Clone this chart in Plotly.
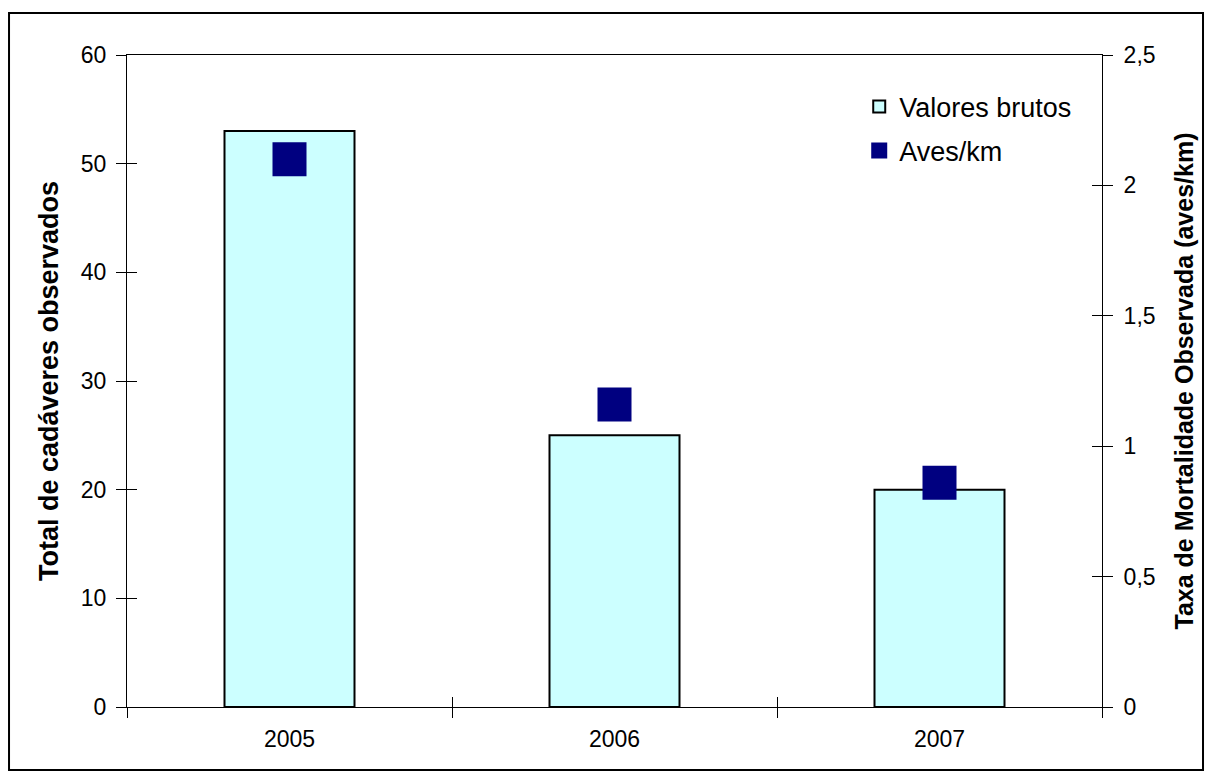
import plotly.graph_objects as go

years = ["2005", "2006", "2007"]
valores_brutos = [53, 25, 20]
aves_km = [2.10, 1.16, 0.86]
left_ticks = [0, 10, 20, 30, 40, 50, 60]
right_ticks = [0, 0.5, 1, 1.5, 2, 2.5]
right_tick_text = ["0", "0,5", "1", "1,5", "2", "2,5"]

FONT = "Liberation Sans, Arial, sans-serif"
TICK = 23

fig = go.Figure()
fig.add_trace(go.Bar(
    x=years, y=valores_brutos, name="Valores brutos", legendgroup="a",
    marker=dict(color="#CCFFFF", line=dict(color="black", width=2)),
    yaxis="y",
))
fig.add_trace(go.Scatter(
    x=years, y=aves_km, name="Aves/km", mode="markers", legendgroup="b",
    marker=dict(symbol="square", size=34, color="#000080", line=dict(width=0)),
    yaxis="y2",
))

fig.update_layout(
    width=1213, height=780,
    margin=dict(l=127, r=111, t=55, b=73),
    paper_bgcolor="white", plot_bgcolor="white",
    font=dict(family=FONT, size=TICK, color="black"),
    bargap=0.6,
    showlegend=True,
    legend=dict(x=0.751, y=0.958, xanchor="left", yanchor="top",
                bgcolor="rgba(0,0,0,0)", font=dict(size=27),
                tracegroupgap=6, itemsizing="trace"),
    xaxis=dict(
        type="category", showline=True, linecolor="black", linewidth=1,
        mirror=True, ticks="outside", ticklen=10, tickcolor="black",
        tickson="boundaries", showgrid=False, tickfont=dict(size=TICK),
        ticklabelstandoff=11,
    ),
    yaxis=dict(
        range=[0, 60], tickvals=left_ticks, showline=True, linecolor="black",
        linewidth=1, ticks="outside", ticklen=10, tickcolor="black",
        showgrid=False, zeroline=False, ticklabelstandoff=5,
        tickfont=dict(size=TICK),
        title=dict(text="<b>Total de cadáveres observados</b>",
                   font=dict(size=27), standoff=14),
    ),
    yaxis2=dict(
        range=[0, 2.5], tickvals=right_ticks, ticktext=right_tick_text,
        overlaying="y", side="right", showline=True, linecolor="black",
        linewidth=1, ticks="outside", ticklen=10, tickcolor="black",
        showgrid=False, zeroline=False, ticklabelstandoff=6,
        tickfont=dict(size=TICK),
        title=dict(text="<b>Taxa de Mortalidade Observada (aves/km)</b>",
                   font=dict(size=25), standoff=20),
    ),
    yaxis3=dict(
        range=[0, 60], tickvals=left_ticks, overlaying="y", side="left",
        showline=False, ticks="inside", ticklen=10, tickcolor="black",
        showticklabels=False, showgrid=False, zeroline=False,
    ),
    yaxis4=dict(
        range=[0, 2.5], tickvals=right_ticks, overlaying="y", side="right",
        showline=False, ticks="inside", ticklen=10, tickcolor="black",
        showticklabels=False, showgrid=False, zeroline=False,
    ),
    xaxis2=dict(
        range=[-0.5, 2.5], tickvals=[-0.5, 0.5, 1.5, 2.5], overlaying="x",
        side="bottom", showline=False, ticks="inside", ticklen=10,
        tickcolor="black", showticklabels=False, showgrid=False,
        zeroline=False, anchor="y",
    ),
)

# invisible traces that activate the overlay tick axes
fig.add_trace(go.Scatter(x=[None], y=[None], xaxis="x2", yaxis="y3",
                         showlegend=False, hoverinfo="skip"))
fig.add_trace(go.Scatter(x=[None], y=[None], yaxis="y4",
                         showlegend=False, hoverinfo="skip"))

# outer chart border
fig.add_shape(type="rect", xref="paper", yref="paper",
              x0=-0.121, x1=1.1036, y0=-0.0966, y1=1.0644,
              line=dict(color="black", width=2), fillcolor="rgba(0,0,0,0)",
              layer="above")

fig.write_html("out.html")
